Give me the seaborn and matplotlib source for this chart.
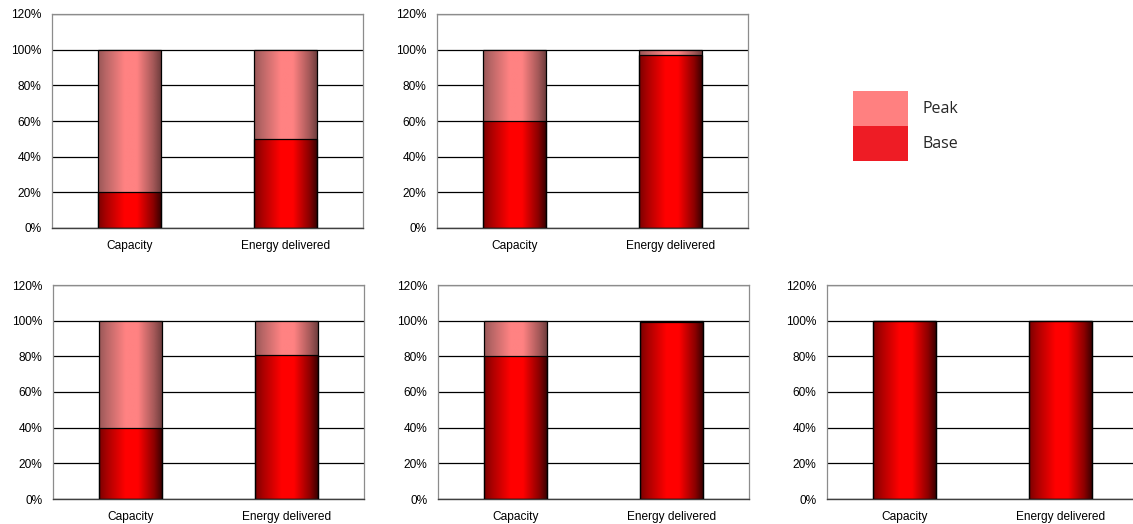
import numpy as np
import pandas as pd
import matplotlib
matplotlib.use("Agg")
import matplotlib.pyplot as plt
from matplotlib.patches import Patch
from matplotlib.colors import to_rgb
import seaborn as sns

# ---- data ----
categories = ["Capacity", "Energy delivered"]
base_capacity = [20, 60, 40, 80, 100]
base_energy = [50, 97, 81, 99, 100]
peak_capacity = [80, 40, 60, 20, 0]
peak_energy = [50, 3, 19, 1, 0]
y_ticks = [0, 20, 40, 60, 80, 100, 120]
y_tick_labels = ["0%", "20%", "40%", "60%", "80%", "100%", "120%"]
legend_labels = ["Peak", "Base"]

# ---- style ----
sns.set_theme(style="white")
plt.rcParams["font.family"] = ["Liberation Sans", "DejaVu Sans"]

BASE_COLOR = "#ee1c25"
PEAK_COLOR = "#ff8080"
BASE_STOPS = [(0.0, "#7a0000"), (0.12, "#a80000"), (0.42, "#ff0000"),
              (0.62, "#ff0000"), (0.88, "#8a0000"), (1.0, "#3c0000")]
PEAK_STOPS = [(0.0, "#985656"), (0.12, "#b86666"), (0.42, "#ff8282"),
              (0.62, "#ff8282"), (0.88, "#a45858"), (1.0, "#703e3e")]


def make_gradient(stops, n=256):
    pos = np.array([s[0] for s in stops])
    cols = np.array([to_rgb(s[1]) for s in stops])
    t = np.linspace(0, 1, n)
    rgb = np.stack([np.interp(t, pos, cols[:, k]) for k in range(3)], axis=-1)
    return rgb[np.newaxis, :, :]


BASE_GRAD = make_gradient(BASE_STOPS)
PEAK_GRAD = make_gradient(PEAK_STOPS)

W, H = 1133, 524
fig = plt.figure(figsize=(W / 100, H / 100), dpi=100)

# axes rectangles in pixels: (left, top, right, bottom)
rects = [
    (52, 14, 363, 228),
    (437, 14, 748, 228),
    (53, 285, 364, 499),
    (438, 285, 749, 499),
    (827, 285, 1138, 499),
]

for i, (l, t, r, b) in enumerate(rects):
    ax = fig.add_axes([l / W, 1 - b / H, (r - l) / W, (b - t) / H])
    df = pd.DataFrame({
        "category": categories,
        "base": [base_capacity[i], base_energy[i]],
        "peak": [peak_capacity[i], peak_energy[i]],
    })
    df["total"] = df["base"] + df["peak"]

    sns.barplot(data=df, x="category", y="total", color=PEAK_COLOR, width=0.405,
                edgecolor="black", linewidth=0.9, ax=ax, zorder=3)
    n_peak = len(ax.patches)
    sns.barplot(data=df, x="category", y="base", color=BASE_COLOR, width=0.405,
                edgecolor="black", linewidth=0.9, ax=ax, zorder=3)

    for j, p in enumerate(ax.patches):
        h = p.get_height()
        if h <= 0:
            p.set_visible(False)
            continue
        grad = PEAK_GRAD if j < n_peak else BASE_GRAD
        x0, y0, w = p.get_x(), p.get_y(), p.get_width()
        im = ax.imshow(grad, extent=[x0, x0 + w, y0, y0 + h], aspect="auto",
                       interpolation="bilinear", zorder=2.5)
        im.set_clip_path(p)
        p.set_facecolor("none")

    ax.set_xlim(-0.5, 1.5)
    ax.set_ylim(0, 120)
    ax.set_yticks(y_ticks)
    ax.set_yticklabels(y_tick_labels)
    ax.set_xlabel("")
    ax.set_ylabel("")
    ax.yaxis.grid(True, color="black", linewidth=0.9)
    ax.xaxis.grid(False)
    ax.set_axisbelow(True)
    ax.tick_params(axis="both", labelsize=8.6, colors="black", length=0)
    ax.tick_params(axis="y", pad=7.5)
    ax.tick_params(axis="x", pad=8.5)
    for side in ["left", "top", "right"]:
        ax.spines[side].set_color("#8c8c8c")
        ax.spines[side].set_linewidth(0.9)
    ax.spines["bottom"].set_color("#404040")
    ax.spines["bottom"].set_linewidth(1.0)

handles = [Patch(facecolor=PEAK_COLOR, edgecolor="none", label=legend_labels[0]),
           Patch(facecolor=BASE_COLOR, edgecolor="none", label=legend_labels[1])]
fig.legend(handles=handles, loc="upper left",
           bbox_to_anchor=(853 / W, 1 - 91 / H), frameon=False,
           borderpad=0, borderaxespad=0, labelspacing=0,
           handlelength=3.44, handleheight=2.99, handletextpad=0.88,
           prop={"family": ["Open Sans", "DejaVu Sans"], "size": 11.5})

fig.savefig("out.png", dpi=100)
